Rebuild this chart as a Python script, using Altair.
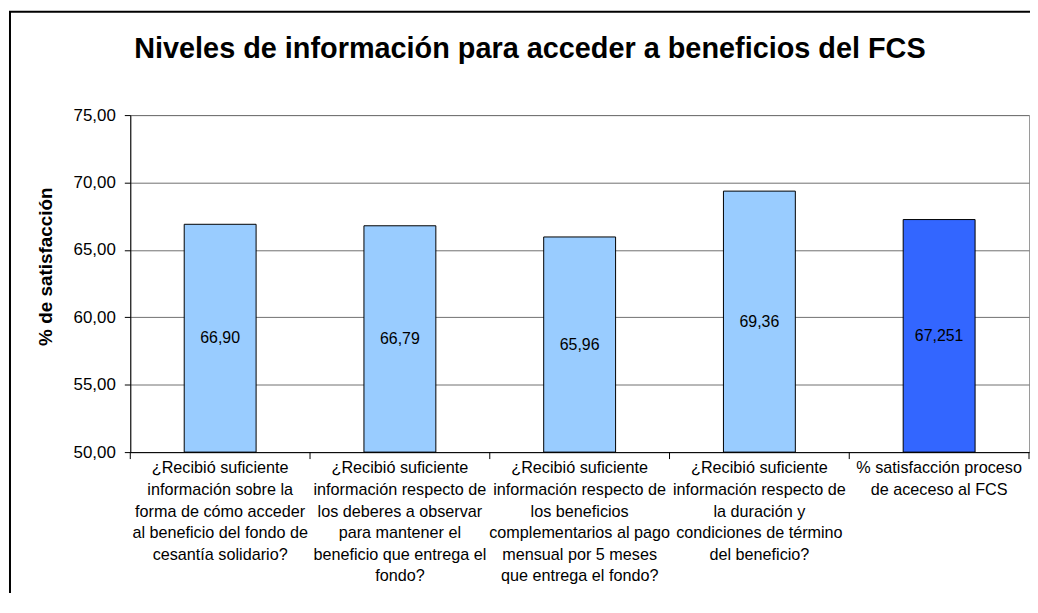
import altair as alt
import pandas as pd

categorias = [
    "¿Recibió suficiente|información sobre la|forma de cómo acceder|al beneficio del fondo de|cesantía solidario?",
    "¿Recibió suficiente|información respecto de|los deberes a observar|para mantener el|beneficio que entrega el|fondo?",
    "¿Recibió suficiente|información respecto de|los beneficios|complementarios al pago|mensual por 5 meses|que entrega el fondo?",
    "¿Recibió suficiente|información respecto de|la duración y|condiciones de término|del beneficio?",
    "% satisfacción proceso|de aceceso al FCS",
]
valores = [66.90, 66.79, 65.96, 69.36, 67.251]
etiquetas = ["66,90", "66,79", "65,96", "69,36", "67,251"]
tipos = ["pregunta", "pregunta", "pregunta", "pregunta", "total"]

df = pd.DataFrame({"cat": categorias, "valor": valores, "etiqueta": etiquetas, "tipo": tipos})

FONT = "Liberation Sans"
W, H = 904, 339

xenc = alt.X("cat:N", sort=None,
             scale=alt.Scale(paddingInner=0, paddingOuter=0),
             axis=alt.Axis(title=None, labelAngle=0, ticks=False, domain=True,
                           domainColor="black", domainWidth=1,
                           labelExpr="split(datum.label, '|')",
                           labelFont=FONT, labelFontSize=16.3, labelLineHeight=21.7,
                           labelColor="black", labelPadding=8, labelBaseline="top",
                           labelLimit=300))

base = alt.Chart(df)

bars = base.mark_bar(stroke="black", strokeWidth=1, width=alt.RelativeBandSize(0.4)).encode(
    x=xenc,
    y=alt.Y("valor:Q",
            scale=alt.Scale(domain=[50, 75], zero=False, nice=False),
            axis=alt.Axis(title="% de satisfacción", values=[50, 55, 60, 65, 70, 75],
                          labelExpr="replace(format(datum.value, '.2f'), '.', ',')",
                          labelFont=FONT, labelFontSize=17, labelColor="black",
                          labelPadding=9, tickSize=6, tickColor="black",
                          domainColor="black", grid=True, gridColor="#707070",
                          titleFont=FONT, titleFontSize=19, titleFontWeight="bold",
                          titleColor="black", titleX=-79, titleY=152,
                          titleBaseline="alphabetic", titleAngle=-90, titleAlign="center")),
    y2=alt.datum(50),
    color=alt.Color("tipo:N", scale=alt.Scale(domain=["pregunta", "total"],
                                               range=["#99CCFF", "#3366FF"]), legend=None),
)

texto = base.transform_calculate(medio="(50 + datum.valor) / 2").mark_text(
    font=FONT, fontSize=16, color="black", baseline="middle", align="center"
).encode(
    x=alt.X("cat:N", sort=None),
    y=alt.Y("medio:Q"),
    text="etiqueta:N",
)

ticks = base.mark_rule(color="black", strokeWidth=1).encode(
    x=alt.X("cat:N", sort=None, bandPosition=0),
    y=alt.value(H),
    y2=alt.value(H + 7),
)
tick_fin = alt.Chart(pd.DataFrame({"a": [0]})).mark_rule(color="black", strokeWidth=1).encode(
    x=alt.value(W), y=alt.value(H), y2=alt.value(H + 7)
)
marco = alt.Chart(pd.DataFrame({"a": [0]})).mark_rect(
    filled=False, stroke="black", strokeWidth=2
).encode(x=alt.value(-121), x2=alt.value(W + 60), y=alt.value(-104), y2=alt.value(H + 200))

chart = alt.layer(marco, bars, texto, ticks, tick_fin).properties(
    width=W, height=H,
    background="white",
    title=alt.TitleParams("Niveles de información para acceder a beneficios del FCS",
                          font=FONT, fontSize=29, fontWeight="bold", color="black",
                          anchor="middle", frame="group", dx=-50, offset=0, dy=77,
                          baseline="alphabetic"),
    autosize=alt.AutoSizeParams(type="none"),
    padding={"left": 123, "top": 106, "right": 1, "bottom": 140},
).configure_view(stroke="#999999", strokeWidth=1)

chart.save("out.html", embed_options={"renderer": "svg", "actions": False})
